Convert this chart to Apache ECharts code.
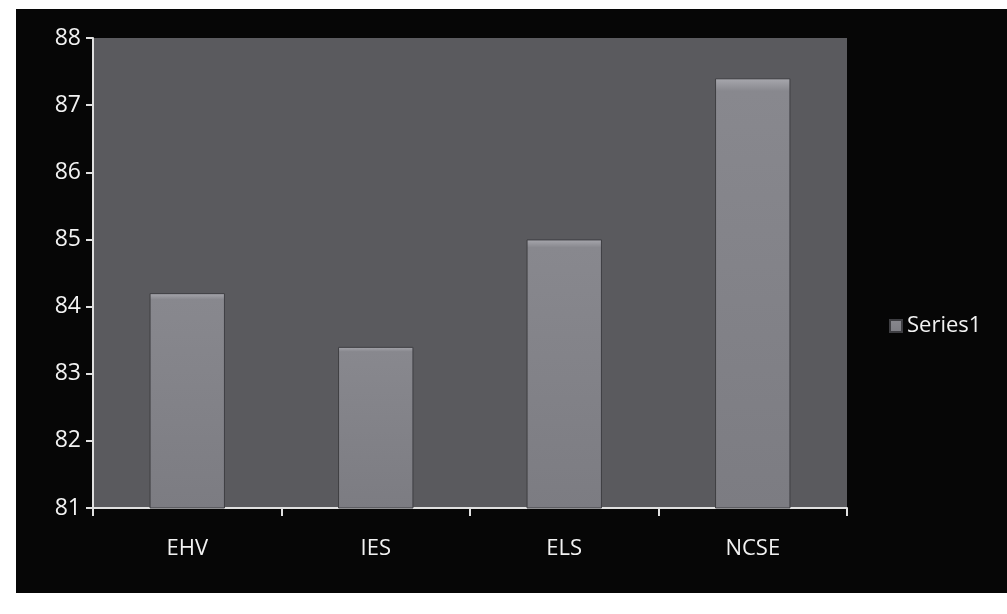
<!DOCTYPE html>
<html>
<head>
<meta charset="utf-8">
<script src="https://cdn.jsdelivr.net/npm/echarts@6/dist/echarts.min.js"></script>
<style>
html,body{margin:0;padding:0;background:#ffffff;}
#chart{width:1007px;height:614px;}
</style>
</head>
<body>
<div id="chart"></div>
<script>
const categories = ['EHV', 'IES', 'ELS', 'NCSE'];
const series1 = [84.2, 83.4, 85.0, 87.4];
const yMin = 81, yMax = 88, yStep = 1;

const chart = echarts.init(document.getElementById('chart'));
chart.setOption({
  backgroundColor: '#ffffff',
  animation: false,
  graphic: [
    { type: 'rect', z: -10, shape: { x: 16, y: 9, width: 991, height: 584 }, style: { fill: '#060606' } }
  ],
  legend: {
    data: ['Series1'],
    orient: 'vertical',
    left: 884, top: 310,
    itemWidth: 12, itemHeight: 12, itemGap: 6,
    icon: 'rect',
    textStyle: { color: '#f2f2f2', fontSize: 22, fontFamily: 'Open Sans, Liberation Sans, sans-serif' }
  },
  grid: { left: 93, right: 160, top: 38, bottom: 106, show: true, backgroundColor: '#5a5a5e', borderWidth: 0 },
  xAxis: {
    type: 'category',
    data: categories,
    axisLine: { lineStyle: { color: '#e0e0e0', width: 2 } },
    axisTick: { show: true, alignWithLabel: false, length: 8, lineStyle: { color: '#e0e0e0', width: 2 } },
    axisLabel: { color: '#f2f2f2', fontSize: 22, margin: 30, fontFamily: 'Open Sans, Liberation Sans, sans-serif' }
  },
  yAxis: {
    type: 'value',
    min: yMin, max: yMax, interval: yStep,
    splitLine: { show: false },
    axisLine: { show: true, lineStyle: { color: '#e0e0e0', width: 2 } },
    axisTick: { show: true, length: 7, lineStyle: { color: '#e0e0e0', width: 2 } },
    axisLabel: { color: '#f2f2f2', fontSize: 23, margin: 12, fontFamily: 'Open Sans, Liberation Sans, sans-serif' }
  },
  series: [{
    name: 'Series1',
    type: 'bar',
    data: series1,
    barWidth: '40%',
    itemStyle: {
      color: {
        type: 'linear', x: 0, y: 0, x2: 0, y2: 1,
        colorStops: [
          { offset: 0, color: '#a8a8ae' },
          { offset: 0.03, color: '#88888e' },
          { offset: 1, color: '#7c7c82' }
        ]
      },
      borderColor: '#3e3e42',
      borderWidth: 1
    }
  }]
});
</script>
</body>
</html>
